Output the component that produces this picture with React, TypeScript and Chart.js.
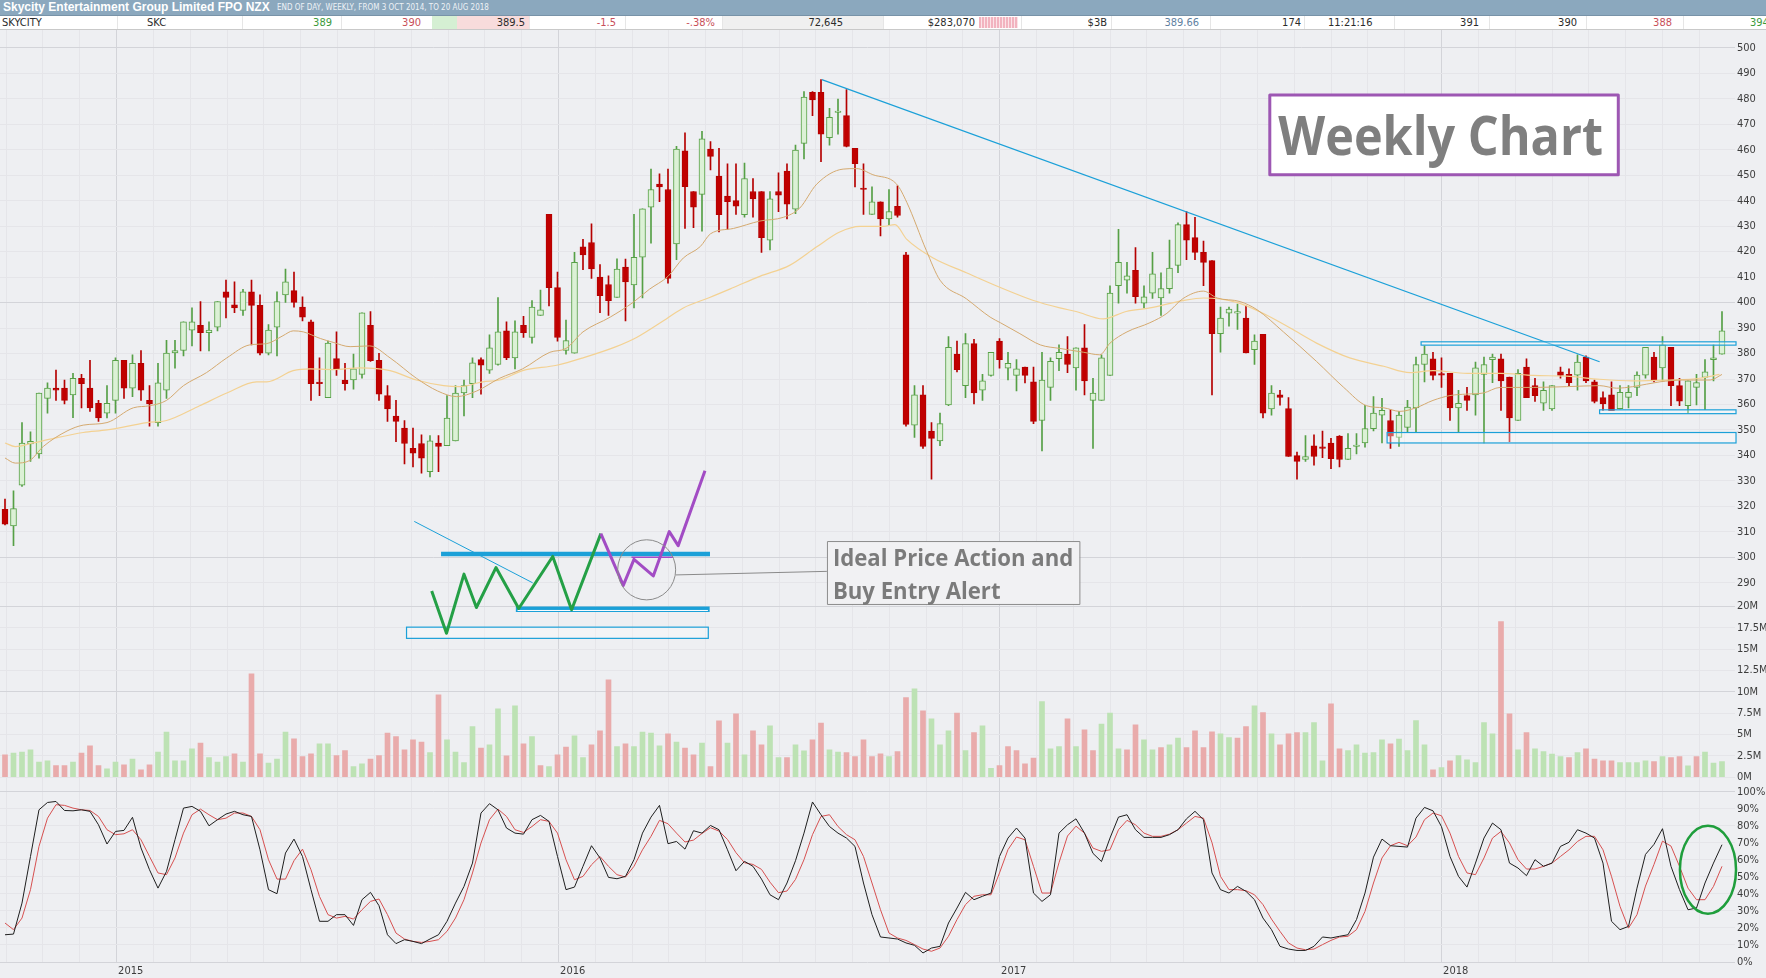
import React, { useEffect, useRef } from 'react';
import { Chart, registerables } from 'chart.js';

Chart.register(...registerables);

// ---------------- data (weekly, Oct 2014 - Aug 2018) ----------------
const opens = [
  318.8,312.3,328.3,344.5,340.6,362.4,366.4,366.4,363.8,370.3,
  366.4,360.5,356.6,361.6,377.3,366.4,376.2,361.6,352.9,365.6,
  380.2,381.2,389.2,391.1,388.2,390.4,404.2,399.1,396.9,404.2,
  398.9,380.1,390.4,403.0,404.7,398.2,392.4,368.5,362.7,378.0,
  369.6,369.6,371.8,391.1,377.3,363.5,355.5,350.7,342.8,344.7,
  333.6,344.9,343.8,345.7,364.5,368.2,377.6,373.5,375.7,388.9,
  378.3,391.1,386.3,395.0,434.6,405.9,381.2,380.1,421.9,423.6,
  410.0,407.1,402.0,413.9,406.9,417.8,437.5,446.5,444.4,423.0,
  459.6,443.6,442.5,460.3,449.7,441.8,440.0,434.5,443.6,443.6,
  424.5,443.6,451.6,436.7,462.5,482.5,482.5,464.7,474.6,473.4,
  460.6,444.7,434.6,439.6,432.8,437.8,418.7,351.9,363.8,349.6,
  345.7,359.8,379.8,367.4,383.9,365.6,371.4,384.9,374.3,371.4,
  374.7,368.9,353.7,366.7,378.0,379.8,374.4,382.2,361.6,361.6,
  371.4,406.6,408.8,412.7,399.8,403.7,401.8,405.5,414.6,430.6,
  425.5,419.7,416.5,387.8,395.8,395.8,393.9,381.5,387.5,358.3,
  363.8,358.4,339.9,338.4,343.8,343.2,344.9,347.6,338.4,343.5,
  344.9,350.5,355.8,353.7,347.1,351.0,358.7,375.7,377.9,372.1,
  372.2,358.7,363.5,363.8,371.8,377.6,377.9,370.8,353.7,374.7,
  367.4,360.5,358.3,372.8,371.8,371.5,378.6,368.9,362.7,363.8,
  358.4,362.8,366.7,371.5,378.6,374.4,382.4,367.4,359.5,366.7,
  370.6,377.6,379.8,
];
const highs = [
  322.9,326.1,352.9,349.3,364.5,368.5,373.5,369.6,372.2,371.8,
  377.3,361.6,367.4,378.3,377.3,379.5,381.2,367.4,376.2,385.2,
  385.2,392.4,397.9,400.4,392.4,400.4,408.8,408.1,405.2,408.8,
  403.0,391.4,404.2,413.2,412.0,402.3,393.1,378.3,384.9,388.5,
  376.2,379.8,396.0,396.5,380.1,367.4,361.6,353.7,350.7,348.1,
  347.8,347.8,363.5,367.4,369.6,378.3,378.3,387.3,402.0,392.4,
  392.8,394.6,400.8,404.9,434.6,412.0,393.1,419.7,424.8,430.9,
  414.9,410.5,417.2,417.1,434.6,436.8,452.4,450.5,452.4,461.3,
  466.6,443.6,467.2,463.2,460.6,454.5,454.5,454.8,448.7,443.6,
  443.6,450.9,454.5,461.8,482.8,482.8,487.5,476.3,479.9,483.6,
  460.6,454.5,445.4,439.6,444.4,445.8,419.7,367.4,367.4,352.9,
  356.6,386.7,384.9,387.8,385.6,371.8,380.5,385.9,380.5,377.6,
  374.7,374.7,380.5,378.3,383.4,386.7,382.2,391.4,370.3,379.5,
  406.6,428.8,415.8,421.6,406.6,419.7,411.7,424.5,431.3,435.7,
  433.5,424.1,416.5,398.2,398.2,399.4,398.7,387.3,387.5,367.4,
  365.6,362.7,341.3,347.8,348.1,349.6,346.7,347.8,348.6,348.6,
  359.7,363.1,362.4,358.0,357.3,361.6,378.6,383.0,380.5,378.3,
  372.2,365.6,366.7,376.6,378.6,379.8,379.8,370.8,373.7,377.9,
  370.3,368.9,367.4,374.7,374.0,379.5,379.1,369.6,365.0,368.9,
  367.4,367.4,372.8,382.4,380.5,386.7,382.4,370.3,369.3,371.8,
  377.6,383.4,396.5,
];
const lows = [
  312.7,304.6,327.8,337.7,338.9,356.6,361.6,360.2,354.8,358.7,
  357.3,353.4,354.7,356.6,362.4,363.1,361.6,351.5,351.5,362.4,
  374.3,379.1,383.0,381.0,381.0,388.9,394.0,396.0,395.0,383.4,
  379.5,379.5,379.1,400.1,398.2,392.8,361.6,363.5,362.7,371.4,
  365.6,366.0,370.3,376.9,361.6,353.4,345.4,336.7,335.5,333.0,
  331.6,333.6,343.8,345.7,355.5,362.7,364.1,372.2,375.4,377.6,
  374.0,386.3,384.1,395.0,398.7,384.9,379.8,380.1,412.9,409.5,
  396.0,395.0,402.0,392.8,397.9,401.8,423.3,439.6,407.6,416.8,
  429.1,429.4,428.0,452.1,427.7,428.8,434.6,433.5,433.5,419.7,
  420.7,435.7,432.8,434.9,456.4,473.4,455.3,461.8,466.1,461.1,
  445.4,434.6,434.6,426.2,430.6,433.5,351.5,347.1,342.8,330.7,
  343.8,359.5,372.8,362.7,360.2,361.6,371.1,374.3,369.6,365.3,
  368.5,352.5,341.8,361.6,373.3,372.5,365.6,363.8,342.8,361.6,
  371.4,399.8,403.7,399.8,397.9,401.6,395.0,403.7,411.7,416.8,
  416.8,406.6,363.8,380.5,390.7,389.5,380.2,375.7,354.7,355.8,
  359.7,339.6,330.7,337.7,336.2,339.1,334.8,335.5,338.4,340.6,
  343.2,349.6,344.9,342.8,343.5,349.3,349.3,368.9,369.6,366.7,
  353.7,349.3,357.7,355.8,344.9,368.6,357.7,345.4,353.7,362.7,
  361.2,357.7,357.7,370.3,367.4,365.6,368.6,360.6,357.7,357.6,
  358.3,358.7,363.5,370.3,368.9,369.3,359.5,359.5,356.6,359.8,
  358.0,369.3,379.8,
];
const closes = [
  313.0,319.1,344.9,345.5,364.5,366.4,365.6,361.6,370.3,368.2,
  358.7,354.7,360.5,377.3,366.4,376.2,365.6,360.2,368.5,380.2,
  381.2,392.4,392.4,388.2,389.2,400.4,402.0,397.9,404.2,398.9,
  380.1,389.2,400.4,408.1,400.1,394.3,368.2,368.2,384.1,374.0,
  368.2,374.0,396.0,377.2,364.1,358.3,353.4,344.7,340.9,338.9,
  345.7,343.5,354.7,364.5,367.4,376.4,375.4,382.2,388.5,378.3,
  388.5,388.2,398.2,397.2,405.9,386.3,385.1,415.8,418.7,413.2,
  402.7,400.8,413.2,408.1,417.8,436.8,444.4,445.4,409.5,460.3,
  445.5,437.5,464.3,457.4,434.5,439.6,437.8,448.7,440.7,425.5,
  440.7,442.2,438.6,459.9,480.7,479.6,466.1,472.7,474.9,461.3,
  454.5,444.4,439.6,432.8,435.7,434.2,352.2,363.8,343.5,346.7,
  352.5,382.4,373.7,383.9,364.5,369.3,380.5,377.6,376.2,374.0,
  371.4,353.4,369.6,376.9,380.5,375.7,382.2,369.3,364.5,378.3,
  403.7,415.8,410.5,402.3,402.3,411.3,405.5,413.5,430.6,424.5,
  419.7,415.8,387.8,393.9,397.5,396.5,380.2,384.9,356.6,364.5,
  362.8,339.6,337.7,339.6,339.6,342.8,338.7,338.4,342.8,343.9,
  350.5,356.6,357.7,347.6,355.8,359.0,375.7,379.8,371.4,371.5,
  358.7,360.5,361.6,374.4,375.7,378.6,369.3,354.7,372.2,362.7,
  363.5,365.6,367.4,371.4,368.6,376.6,369.3,361.2,360.2,357.6,
  364.8,364.8,371.5,382.4,369.3,383.4,367.4,361.3,369.3,368.6,
  372.8,378.3,388.9,
];
// volume, millions of shares
const volumes = [
  2.62,2.81,2.93,3.20,1.76,1.91,1.37,1.37,1.76,2.81,
  3.67,1.37,0.98,1.76,1.45,2.11,0.86,1.45,2.93,5.27,
  1.91,1.91,3.32,3.98,2.30,1.76,2.42,2.73,1.76,12.11,
  2.73,1.64,2.11,5.27,4.49,2.42,2.73,3.91,3.91,2.54,
  3.13,1.25,1.56,2.11,2.54,5.16,4.77,3.20,4.37,4.10,
  2.89,9.65,4.37,2.93,1.72,5.94,3.40,3.79,8.01,2.50,
  8.36,3.91,4.77,1.37,1.25,2.62,3.52,4.84,2.30,3.79,
  5.43,11.41,3.59,3.91,3.59,5.27,5.16,3.67,5.08,4.10,
  3.40,2.62,3.98,1.25,6.60,3.98,7.42,2.62,5.43,3.79,
  6.02,2.30,2.30,3.79,3.09,4.37,6.33,3.20,2.93,2.89,
  2.42,4.37,2.42,2.73,2.42,3.01,9.34,10.35,7.77,6.84,
  3.79,5.43,7.50,3.13,5.23,6.02,1.05,1.37,3.59,3.13,
  1.56,2.23,8.87,3.32,3.59,6.84,3.59,5.55,3.13,6.21,
  7.50,3.32,3.20,6.13,4.37,3.20,3.48,3.79,4.57,3.48,
  5.43,3.48,5.31,5.08,4.65,4.57,5.94,8.36,7.58,5.08,
  3.79,5.08,5.23,5.23,6.41,1.91,8.59,3.32,3.13,3.79,
  2.81,2.89,4.37,3.91,4.45,3.13,6.64,3.79,0.86,1.13,
  1.91,2.54,2.03,1.72,6.41,5.08,18.24,7.42,3.20,5.23,
  3.32,3.01,2.70,2.42,2.30,2.89,3.32,2.11,1.91,1.91,
  1.72,1.72,1.72,1.91,1.84,2.42,2.30,2.42,1.33,2.42,
  2.93,1.64,1.84,
];
const stochK = [
  16.0,16.4,34.6,62.0,89.4,93.7,94.3,89.0,88.8,89.4,
  88.5,80.6,69.3,76.7,77.3,85.0,67.0,54.2,43.4,53.2,
  71.8,90.4,91.4,88.5,80.0,83.6,86.9,88.5,86.5,85.5,
  65.9,42.5,40.1,64.0,72.2,62.0,42.5,23.9,23.9,27.8,
  27.8,21.5,36.6,40.9,33.1,16.0,10.8,13.1,12.1,10.8,
  13.5,16.0,23.9,34.6,44.4,58.1,87.5,93.0,89.4,78.7,
  75.7,75.1,83.6,86.1,82.6,62.0,42.5,44.0,56.2,68.3,
  61.1,49.7,48.9,50.3,60.1,75.7,85.1,92.0,69.5,70.8,
  66.3,77.1,75.7,80.2,77.7,65.9,53.6,59.1,56.2,48.7,
  39.5,36.6,46.4,59.5,75.7,94.0,86.5,79.6,75.7,72.8,
  67.9,46.4,27.8,14.7,14.1,13.5,11.2,9.8,5.3,8.2,
  9.2,22.9,31.7,40.9,36.6,38.6,40.5,62.0,72.8,78.7,
  72.8,40.5,35.6,39.5,75.7,80.6,84.1,75.7,63.8,59.0,
  72.8,85.1,86.5,77.7,73.2,73.2,73.2,74.8,77.7,84.1,
  88.5,83.6,52.3,42.5,40.5,44.4,41.5,36.6,25.8,19.0,
  9.2,7.6,6.8,6.8,9.2,14.7,14.1,15.1,16.0,24.9,
  40.5,61.6,72.2,68.3,67.9,67.5,84.5,90.8,88.8,79.5,
  62.0,50.3,44.0,58.1,72.8,81.6,77.7,58.1,55.2,50.7,
  60.1,56.2,58.1,67.9,70.3,77.7,75.7,72.8,58.1,23.9,
  19.0,20.9,43.4,63.2,69.1,78.3,56.2,42.5,30.7,31.7,
  46.4,58.1,68.9,
];
const stochD = [
  22.9,19.0,25.8,42.5,67.9,84.5,92.4,92.0,90.4,89.4,
  89.0,85.5,77.7,74.8,75.3,77.7,71.8,62.0,52.3,51.3,
  61.1,75.7,86.5,89.8,86.5,83.6,84.5,87.5,87.5,85.5,
  77.7,60.1,48.7,48.7,59.5,66.3,54.2,38.5,27.8,25.8,
  26.8,25.2,30.7,35.6,37.0,27.8,17.0,13.5,12.1,11.5,
  12.1,13.1,18.0,25.8,36.6,52.3,69.9,83.6,89.8,85.5,
  77.7,76.1,79.6,83.6,82.6,75.7,60.1,48.3,50.3,57.1,
  62.0,56.2,51.3,49.9,56.2,65.9,73.8,83.2,81.2,75.7,
  70.5,71.6,75.5,78.9,76.9,72.0,64.2,58.3,57.3,54.4,
  46.9,40.7,41.7,48.5,60.1,74.8,85.5,86.5,79.6,74.8,
  71.8,62.0,46.4,30.7,17.0,14.1,12.7,10.2,7.6,6.3,
  8.2,15.1,24.9,33.7,38.6,39.5,39.5,52.3,66.0,73.4,
  71.8,56.2,40.5,40.5,58.3,74.0,79.8,75.7,66.9,65.0,
  65.9,77.7,83.2,80.6,75.7,73.8,73.8,75.1,77.7,81.6,
  85.5,84.5,70.1,50.3,42.5,42.5,41.9,39.5,33.7,25.2,
  18.0,11.2,8.2,7.2,7.6,10.2,12.7,14.7,15.1,19.0,
  29.7,46.4,61.1,68.3,70.3,68.3,73.4,83.6,87.5,85.9,
  75.7,62.0,52.3,51.3,61.1,72.8,76.7,69.9,60.1,54.6,
  54.6,56.2,58.1,62.0,65.9,70.8,73.8,73.8,65.9,50.3,
  32.7,19.9,27.8,44.6,57.3,71.0,68.1,56.2,43.4,36.6,
  36.6,44.4,56.2,
];
// moving averages: [week index, price]
const maFast = [
  [0,339],[1.2,337],[2.9,338],[4.5,343.5],[7.3,349.6],[9.2,351.9],[12,352.9],[15.1,358.7],[17,359.5],[19,361.6],
  [21,367.4],[23.7,372.5],[26.1,378.3],[28.8,383.4],[30.8,383.9],[32.7,387],[33.9,388.9],[35.1,388.5],[37.1,385.9],[38.6,384.4],
  [40.6,382.7],[42.9,383],[45.3,378.3],[48.4,370.3],[50.9,365.3],[53.1,363.1],[55.5,365.3],[58.2,370.3],[60.9,374.0],[64.1,380.5],
  [66,382],[68,388.5],[71.2,394.3],[73.9,400.1],[75.8,405.2],[78,410.3],[79.8,417.5],[81.8,422],[83,427],[85.7,429.1],
  [88.8,432],[91.6,433.5],[93.5,437.1],[95.5,446.5],[98.6,452.4],[100.2,452.6],[102.1,450.2],[104.9,446.5],[106.1,439.3],[108.4,420.4],
  [110,408.8],[113.1,401.5],[115.9,394.3],[117.1,392.1],[119.4,387.8],[121.8,383.4],[124.1,382],[126.9,380.5],[128.8,379.5],[130,384.1],
  [132,388.5],[134.7,392.1],[136.7,395.8],[138.6,401.6],[141,404.5],[142.6,401.8],[145.3,400.4],[147.3,397.2],[150.4,388.5],[154.3,376.9],
  [157.5,366.7],[160.2,359.5],[162.2,358.7],[164.1,357.3],[166,358.7],[168,361.6],[170,363.5],[172,364.1],[173.9,364.5],[175.9,366.7],
  [179.8,366.7],[183.7,367],[187.6,367.4],[189.6,366.4],[191.5,367],[194.7,368.9],[197.4,369.6],[200.6,369.6],[202,371.8],
];
const maSlow = [
  [0,344.9],[1.2,343.5],[3.3,344.9],[5.3,346.4],[9.2,349],[12,350],[16.7,352.9],[19,353.7],[22.9,359.5],[26.1,364.5],
  [29.6,368.9],[30.8,368.9],[33.9,373.3],[35.9,374],[38.6,373.7],[41.8,374.4],[45.3,373.3],[48.4,369.6],[51.6,367.4],[53.5,367],
  [56.2,368.9],[58.2,369.6],[60.9,373.3],[64.9,375.4],[68,378.3],[71.9,382.7],[74.3,386.3],[77.8,393.6],[79.8,397.9],[82.9,402.0],
  [85.7,405.9],[88.8,410.3],[92.3,414.6],[95.5,421.9],[98.2,427.7],[100.6,429.9],[103.3,429.9],[104.7,430.6],[106.1,424.8],[109.2,417.5],
  [113.1,411.7],[117.1,405.9],[121,400.8],[124.1,397.9],[126,396.5],[129.2,393.6],[131.9,396.5],[134.7,397.9],[138.6,400.8],[141,401.8],
  [144.9,400.1],[148,395.8],[151.2,390],[154.3,384.1],[158.2,378.3],[162.2,375],[165.3,372.5],[168,373.3],[172,372.2],[175.9,372.2],
  [179.8,371.4],[183.7,371.1],[187.6,369.9],[191.5,369.3],[195.5,369.6],[199.4,370.3],[201.7,371.8],
];

// axes
const X_MIN = -0.588;
const X_MAX = 203.53;
const PRICE_MIN = 280.7;
const PRICE_MAX = 507.0;
const VOL_MIN = -1.71;
const VOL_MAX = 20;
const PANE_WEIGHTS = [576.7, 185.3, 170.3];
const yearTickPos = [13.13, 65.13, 117.01, 169.01];
const yearTickLabels = ['2015', '2016', '2017', '2018'];
const priceTicks = [290,300,310,320,330,340,350,360,370,380,390,400,410,420,430,440,450,460,470,480,490,500];
const volumeTicks = [0, 2.5, 5, 7.5, 10, 12.5, 15, 17.5, 20];
const stochTicks = [0, 10, 20, 30, 40, 50, 60, 70, 80, 90, 100];

// drawn annotations, in [week index, price] units
const trendLine = [[96.1, 487.5], [187.6, 376.8]];
const rangeBoxes = [
  [166.6, 203.65, 383.3, 384.6],
  [187.6, 203.65, 356.4, 357.9],
  [162.6, 203.65, 344.9, 349.0],
];
const weeklyBox = [148.8, 189.8, 450.2, 481.5];
const weeklyText = { text: 'Weekly Chart', x0: 149.8, x1: 188.0, base: 457.9 };
const ideaBox = [96.7, 126.4, 281.7, 306.4];
const ideaText = [
  { text: 'Ideal Price Action and', x: 97.4, y: 296.7 },
  { text: 'Buy Entry Alert', x: 97.4, y: 283.7 },
];
const ideaTextRight = 125.68; // right end of the first callout line
const sketchThinRect = [47.24, 82.74, 268.2, 272.6];
const sketchUpperBar = [51.3, 82.94, 301.3];
const sketchLowerBar = [60.1, 82.9, 279.6];
const sketchDiagonal = [[48.15, 314.1], [62.08, 290.0]];
const sketchGreen = [[50.2,286.8],[51.94,270.2],[54.0,293.4],[55.46,280.3],[57.76,296.0],[60.44,279.9],[64.44,300.35],[66.66,279.4],[70.1,309.3]];
const sketchPurple = [[70.1,309.3],[72.74,289.0],[74.0,299.2],[76.27,292.7],[78.15,310.1],[79.2,304.6],[82.35,334.0]];
const sketchCircle = [75.49, 295.1, 3.41, 11.8];
const sketchInnerLine = [[73.7, 300.0], [78.6, 300.0]];
const calloutLine = [[78.9, 293.1], [96.7, 294.5]];
const stochEllipse = [200.35, 54.2, 3.3, 25.8]; // index, %, rx, ry

// ---------------- styles ----------------
const BG = '#eeeff2';
const GRID_MAJOR = '#d3d4d9';
const GRID_MINOR = '#e5e5e9';
const TICK_COLOR = '#3c3c3c';
const TICK_FONT = '"DejaVu Sans Condensed", "Liberation Sans Narrow", "Liberation Sans", sans-serif';
const UP_LINE = '#56a046';
const UP_FILL = '#dcf1d6';
const DOWN_LINE = '#b50000';
const DOWN_FILL = '#c00000';
const VOL_UP = '#bde2b4';
const VOL_DOWN = '#e9abab';
const MA_FAST = '#d4a96f';
const MA_SLOW = '#f3d192';
const STOCH_K = '#1e1e1e';
const STOCH_D = '#d65050';
const BLUE = '#1ba0d8';

const monthTicks = (() => {
  const out: number[] = [];
  const span0 = yearTickPos[1] - yearTickPos[0];
  for (let m = 3; m >= 1; m--) out.push(yearTickPos[0] - (m * span0) / 12);
  yearTickPos.forEach((p, k) => {
    const span = k < yearTickPos.length - 1 ? yearTickPos[k + 1] - p : p - yearTickPos[k - 1];
    for (let m = 0; m < 12; m++) out.push(p + (m * span) / 12);
  });
  return out.filter((v) => v >= X_MIN && v <= X_MAX);
})();
const yearIndex = (v: any) => yearTickPos.findIndex((p) => Math.abs(p - Number(v)) < 1e-6);

const annotationPlugin = {
  id: 'skcAnnotations',
  afterDatasetsDraw(chart: any) {
    const ctx: CanvasRenderingContext2D = chart.ctx;
    const xs = chart.scales.x;
    const ys = chart.scales.yPrice;
    const ss = chart.scales.yStoch;
    const X = (v: number) => xs.getPixelForValue(v);
    const Y = (v: number) => ys.getPixelForValue(v);
    const poly = (pts: number[][], color: string, w: number) => {
      ctx.strokeStyle = color;
      ctx.lineWidth = w;
      ctx.beginPath();
      pts.forEach(([a, b], i) => (i === 0 ? ctx.moveTo(X(a), Y(b)) : ctx.lineTo(X(a), Y(b))));
      ctx.stroke();
    };
    ctx.save();
    ctx.lineJoin = 'miter';
    ctx.lineCap = 'butt';

    // long-term downtrend line
    poly(trendLine, BLUE, 1.2);

    // consolidation range boxes
    for (const b of rangeBoxes) {
      const l = X(b[0]), r = X(b[1]), t = Y(b[3]), bt = Y(b[2]);
      ctx.fillStyle = 'rgba(255,255,255,0.35)';
      ctx.fillRect(l, t, r - l, bt - t);
      ctx.strokeStyle = BLUE;
      ctx.lineWidth = 1.2;
      ctx.strokeRect(l, t, r - l, bt - t);
    }

    // sketch: thin rectangle
    {
      const [a, b, lo, hi] = sketchThinRect;
      const l = X(a), r = X(b), t = Y(hi), bt = Y(lo);
      ctx.fillStyle = 'rgba(255,255,255,0.3)';
      ctx.fillRect(l, t, r - l, bt - t);
      ctx.strokeStyle = BLUE;
      ctx.lineWidth = 1.2;
      ctx.strokeRect(l, t, r - l, bt - t);
    }
    // thick bars
    poly([[sketchUpperBar[0], sketchUpperBar[2]], [sketchUpperBar[1], sketchUpperBar[2]]], BLUE, 4.5);
    poly([[sketchLowerBar[0], sketchLowerBar[2]], [sketchLowerBar[1], sketchLowerBar[2]]], BLUE, 5.5);
    poly([[sketchLowerBar[0] + 0.2, sketchLowerBar[2] - 0.45], [sketchLowerBar[1] - 0.2, sketchLowerBar[2] - 0.45]], '#ffffff', 1);
    poly(sketchDiagonal, BLUE, 1);
    poly(sketchInnerLine, '#a64ac9', 1.5);
    ctx.lineJoin = 'round';
    poly(sketchGreen, '#24a046', 3);
    poly(sketchPurple, '#a24cc4', 3);
    // circle
    {
      const [cx, cy, rx, ry] = sketchCircle;
      ctx.strokeStyle = '#8a8a8a';
      ctx.lineWidth = 1;
      ctx.beginPath();
      ctx.ellipse(X(cx), Y(cy), X(cx + rx) - X(cx), Y(cy) - Y(cy + ry), 0, 0, Math.PI * 2);
      ctx.stroke();
    }
    poly(calloutLine, '#8a8a8a', 1);

    // callout box
    {
      const [a, b, lo, hi] = ideaBox;
      const l = X(a), r = X(b), t = Y(hi), bt = Y(lo);
      ctx.fillStyle = '#f1f1f3';
      ctx.fillRect(l, t, r - l, bt - t);
      ctx.strokeStyle = '#8c8c8c';
      ctx.lineWidth = 1;
      ctx.strokeRect(l + 0.5, t + 0.5, r - l, bt - t);
      ctx.fillStyle = '#7b7b7b';
      ctx.font = 'bold 24px "Open Sans", "DejaVu Sans", sans-serif';
      ctx.textAlign = 'left';
      ctx.textBaseline = 'alphabetic';
      const want = X(ideaTextRight) - X(ideaText[0].x);
      const sx = want / ctx.measureText(ideaText[0].text).width;
      for (const tl of ideaText) {
        ctx.save();
        ctx.translate(X(tl.x), Y(tl.y));
        ctx.scale(sx, 1);
        ctx.fillText(tl.text, 0, 0);
        ctx.restore();
      }
    }

    // "Weekly Chart" title box
    {
      const [a, b, lo, hi] = weeklyBox;
      const l = X(a), r = X(b), t = Y(hi), bt = Y(lo);
      ctx.fillStyle = '#ffffff';
      ctx.fillRect(l, t, r - l, bt - t);
      ctx.strokeStyle = '#9d57b3';
      ctx.lineWidth = 3;
      ctx.strokeRect(l, t, r - l, bt - t);
      ctx.fillStyle = '#7f7f7f';
      ctx.font = 'bold 53px "Open Sans", "DejaVu Sans", sans-serif';
      ctx.textAlign = 'left';
      ctx.textBaseline = 'alphabetic';
      const want = X(weeklyText.x1) - X(weeklyText.x0);
      const sx = want / ctx.measureText(weeklyText.text).width;
      ctx.save();
      ctx.translate(X(weeklyText.x0), Y(weeklyText.base));
      ctx.scale(sx, 1);
      ctx.fillText(weeklyText.text, 0, 0);
      ctx.restore();
    }

    // stochastic highlight ellipse
    {
      const [cx, cy, rx, ry] = stochEllipse;
      ctx.strokeStyle = '#1f9e3c';
      ctx.lineWidth = 2.5;
      ctx.beginPath();
      ctx.ellipse(X(cx), ss.getPixelForValue(cy), X(cx + rx) - X(cx), ss.getPixelForValue(cy) - ss.getPixelForValue(cy + ry), 0, 0, Math.PI * 2);
      ctx.stroke();
    }
    ctx.restore();
  },
};

const quoteCells: [string, number, 'left' | 'right', string][] = [
  ['SKYCITY', 2, 'left', '#2b2b2b'],
  ['SKC', 147, 'left', '#2b2b2b'],
  ['389', 332, 'right', '#3c9a3c'],
  ['390', 421, 'right', '#c8505a'],
  ['389.5', 525, 'right', '#2b2b2b'],
  ['-1.5', 616, 'right', '#c8505a'],
  ['-.38%', 715, 'right', '#c8505a'],
  ['72,645', 843, 'right', '#2b2b2b'],
  ['$283,070', 975, 'right', '#2b2b2b'],
  ['$3B', 1107, 'right', '#2b2b2b'],
  ['389.66', 1199, 'right', '#5f7f9f'],
  ['174', 1301, 'right', '#2b2b2b'],
  ['11:21:16', 1328, 'left', '#2b2b2b'],
  ['391', 1479, 'right', '#2b2b2b'],
  ['390', 1577, 'right', '#2b2b2b'],
  ['388', 1672, 'right', '#c8505a'],
  ['394', 1750, 'left', '#3c9a3c'],
];
const quoteSeparators = [117, 242, 341, 529, 625, 722, 883, 1021, 1111, 1210, 1304, 1394, 1489, 1586, 1683];

const zeroPad = (s: any) => {
  s.paddingTop = 0;
  s.paddingBottom = 0;
  s.paddingLeft = 0;
  s.paddingRight = 0;
};

export default function App() {
  const canvasRef = useRef<HTMLCanvasElement | null>(null);

  useEffect(() => {
    const canvas = canvasRef.current;
    if (!canvas) return;
    const n = closes.length;
    const idx = Array.from({ length: n }, (_, i) => i);
    const up = idx.map((i) => closes[i] >= opens[i]);
    const volUp = idx.map((i) => (i === 0 ? up[0] : closes[i] >= closes[i - 1]));
    const tickFont = { family: TICK_FONT, size: 11 };

    const chart = new Chart(canvas, {
      type: 'bar',
      data: {
        datasets: [
          { type: 'line', label: '%K', data: idx.map((i) => ({ x: i, y: stochK[i] })), yAxisID: 'yStoch', borderColor: STOCH_K, borderWidth: 1, pointRadius: 0, order: 1 },
          { type: 'line', label: '%D', data: idx.map((i) => ({ x: i, y: stochD[i] })), yAxisID: 'yStoch', borderColor: STOCH_D, borderWidth: 1, pointRadius: 0, order: 2 },
          { type: 'line', label: 'MA fast', data: maFast.map(([x, y]) => ({ x, y })), yAxisID: 'yPrice', borderColor: MA_FAST, borderWidth: 1, pointRadius: 0, cubicInterpolationMode: 'monotone', order: 3 },
          { type: 'line', label: 'MA slow', data: maSlow.map(([x, y]) => ({ x, y })), yAxisID: 'yPrice', borderColor: MA_SLOW, borderWidth: 1.2, pointRadius: 0, cubicInterpolationMode: 'monotone', order: 4 },
          {
            type: 'bar', label: 'body',
            data: idx.map((i) => ({ x: i, y: [Math.min(opens[i], closes[i]), Math.max(opens[i], closes[i])] })),
            yAxisID: 'yPrice',
            backgroundColor: idx.map((i) => (up[i] ? UP_FILL : DOWN_FILL)),
            borderColor: idx.map((i) => (up[i] ? UP_LINE : DOWN_LINE)),
            borderWidth: 1, borderSkipped: false, barThickness: 6, minBarLength: 1.5, grouped: false, order: 5,
          },
          {
            type: 'bar', label: 'wick',
            data: idx.map((i) => ({ x: i, y: [lows[i], highs[i]] })),
            yAxisID: 'yPrice',
            backgroundColor: idx.map((i) => (up[i] ? UP_LINE : DOWN_LINE)),
            barThickness: 1, grouped: false, order: 6,
          },
          {
            type: 'bar', label: 'volume',
            data: idx.map((i) => ({ x: i, y: volumes[i] })),
            yAxisID: 'yVol',
            backgroundColor: idx.map((i) => (volUp[i] ? VOL_UP : VOL_DOWN)),
            barThickness: 5, grouped: false, order: 7,
          },
        ],
      } as any,
      options: {
        animation: false,
        responsive: false,
        events: [],
        layout: { padding: 0 },
        plugins: { legend: { display: false }, tooltip: { enabled: false } },
        scales: {
          x: {
            type: 'linear', min: X_MIN, max: X_MAX, position: 'bottom', offset: false,
            afterBuildTicks: (s: any) => { s.ticks = monthTicks.map((v) => ({ value: v })); },
            afterFit: (s: any) => { s.height = 16; zeroPad(s); },
            grid: { offset: false, drawTicks: false, color: (c: any) => (c.tick && yearIndex(c.tick.value) >= 0 ? GRID_MAJOR : GRID_MINOR) },
            border: { display: false },
            ticks: {
              autoSkip: false, maxRotation: 0, minRotation: 0, align: 'start', padding: 3, labelOffset: 1.5,
              color: TICK_COLOR, font: tickFont,
              callback: (v: any) => { const k = yearIndex(v); return k >= 0 ? yearTickLabels[k] : ''; },
            },
          },
          yPrice: {
            type: 'linear', position: 'right', stack: 'panes', stackWeight: PANE_WEIGHTS[0],
            min: PRICE_MIN, max: PRICE_MAX, beginAtZero: false, offset: false,
            afterBuildTicks: (s: any) => { s.ticks = priceTicks.map((v) => ({ value: v })); },
            afterFit: (s: any) => { s.width = 31; zeroPad(s); },
            grid: { drawTicks: false, color: (c: any) => (c.tick && c.tick.value % 100 === 0 ? GRID_MAJOR : GRID_MINOR) },
            border: { display: false },
            ticks: { autoSkip: false, padding: 2, color: TICK_COLOR, font: tickFont, callback: (v: any) => String(v) },
          },
          yVol: {
            type: 'linear', position: 'right', stack: 'panes', stackWeight: PANE_WEIGHTS[1],
            min: VOL_MIN, max: VOL_MAX, beginAtZero: false, offset: false,
            afterBuildTicks: (s: any) => { s.ticks = volumeTicks.map((v) => ({ value: v })); },
            afterFit: (s: any) => { s.width = 31; zeroPad(s); },
            grid: { drawTicks: false, color: (c: any) => (c.tick && (c.tick.value === 10 || c.tick.value === 20) ? GRID_MAJOR : GRID_MINOR) },
            border: { display: false },
            ticks: { autoSkip: false, padding: 2, color: TICK_COLOR, font: tickFont, callback: (v: any) => `${v}M` },
          },
          yStoch: {
            type: 'linear', position: 'right', stack: 'panes', stackWeight: PANE_WEIGHTS[2],
            min: 0, max: 100, beginAtZero: false, offset: false,
            afterBuildTicks: (s: any) => { s.ticks = stochTicks.map((v) => ({ value: v })); },
            afterFit: (s: any) => { s.width = 31; zeroPad(s); },
            grid: { drawTicks: false, color: (c: any) => (c.tick && (c.tick.value === 0 || c.tick.value === 100) ? GRID_MAJOR : GRID_MINOR) },
            border: { display: false },
            ticks: { autoSkip: false, padding: 2, color: TICK_COLOR, font: tickFont, callback: (v: any) => `${v}%` },
          },
        },
      } as any,
      plugins: [annotationPlugin],
    });
    return () => chart.destroy();
  }, []);

  const narrow = '"DejaVu Sans Condensed", "Liberation Sans Narrow", "Liberation Sans", sans-serif';
  return (
    <div style={{ position: 'fixed', left: 0, top: 0, width: 1766, height: 978, background: BG, overflow: 'hidden' }}>
      <div style={{ position: 'absolute', left: 0, top: 0, width: 1766, height: 15, background: '#8ba8be', borderBottom: '1px solid #7893a8' }}>
        <span style={{ position: 'absolute', left: 3, top: 0, lineHeight: '15px', fontSize: 12, fontWeight: 'bold', color: '#ffffff', fontFamily: '"Liberation Sans", Arial, sans-serif', whiteSpace: 'nowrap' }}>
          Skycity Entertainment Group Limited FPO NZX
        </span>
        <span style={{ position: 'absolute', left: 277, top: 0, lineHeight: '16px', fontSize: 8, color: '#eef2f6', fontFamily: narrow, whiteSpace: 'nowrap' }}>
          END OF DAY, WEEKLY, FROM 3 OCT 2014, TO 20 AUG 2018
        </span>
      </div>
      <div style={{ position: 'absolute', left: 0, top: 16, width: 1766, height: 13, background: '#ffffff', borderBottom: '1px solid #c9c9c9' }}>
        <div style={{ position: 'absolute', left: 432, top: 0, width: 25, height: 13, background: '#d5efd3' }} />
        <div style={{ position: 'absolute', left: 457, top: 0, width: 72, height: 13, background: '#f8dcdc' }} />
        <div style={{ position: 'absolute', left: 722, top: 0, width: 161, height: 13, background: '#f0f0f0' }} />
        <div style={{ position: 'absolute', left: 979, top: 1, width: 39, height: 11, background: 'repeating-linear-gradient(90deg, #f2b3bf 0px, #f2b3bf 2px, #fbe3e7 2px, #fbe3e7 3px)' }} />
        {quoteSeparators.map((x) => (
          <div key={x} style={{ position: 'absolute', left: x, top: 0, width: 1, height: 13, background: '#e6e6e6' }} />
        ))}
        {quoteCells.map(([t, x, align, color], i) => (
          <span
            key={i}
            style={{
              position: 'absolute', top: 0, lineHeight: '13px', fontSize: 11, color, fontFamily: narrow, whiteSpace: 'nowrap',
              ...(align === 'left' ? { left: x } : { right: 1766 - x }),
            }}
          >
            {t}
          </span>
        ))}
      </div>
      <div style={{ position: 'absolute', left: 0, top: 30, width: 1766, height: 948 }}>
        <canvas ref={canvasRef} width={1766} height={948} style={{ display: 'block' }} />
      </div>
    </div>
  );
}
